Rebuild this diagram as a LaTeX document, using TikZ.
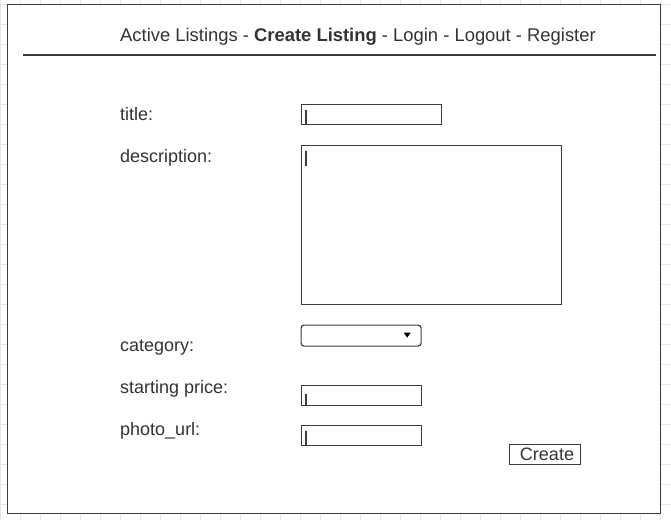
\documentclass[tikz,border=0pt]{standalone}
\usepackage{fontspec}
\setmainfont{Liberation Sans}
\definecolor{textgrey}{HTML}{333333}
\definecolor{linegrey}{HTML}{3C3C3C}
\definecolor{gridgrey}{HTML}{E6E6E6}
\begin{document}
\begin{tikzpicture}[x=1pt,y=-1pt,
            label text/.style={anchor=base west,inner sep=0pt,text=textgrey,font=\fontsize{18}{21}\selectfont},
            field/.style={draw=linegrey,line width=1.2pt,anchor=north west,inner sep=0pt,minimum height=20pt},
            cursor/.style={draw=linegrey,line width=1.8pt},
            button/.style={draw=linegrey,line width=1pt,inner sep=0pt,minimum width=71pt,minimum height=20pt,text=textgrey,font=\fontsize{18}{21}\selectfont}]

        \useasboundingbox (0,0) rectangle (671,520);

        % Background grid
        \foreach \gx in {0,20,...,660}
            \draw[gridgrey,line width=0.8pt] (\gx,0) -- (\gx,520);
        \foreach \gy in {4,24,...,504}
            \draw[gridgrey,line width=0.8pt] (0,\gy) -- (671,\gy);

        % Page and header
        \draw[draw=linegrey,fill=white,line width=1.5pt] (7.5,4.5) rectangle (660.5,513.5);
        \coordinate (rule left) at (23,55);
        \coordinate (rule right) at (656,55);
        \draw[linegrey,line width=1.3pt] (rule left) -- (rule right);
        \node[label text,font=\fontsize{18.4}{21}\selectfont] (menu) at (120,41) {Active Listings - \textbf{Create Listing} - Login - Logout - Register};

        % Define labels
        \node[label text] (title) at (120,120) {title:};
        \node[label text] (description) at (120,162) {description:};
        \node[label text] (category) at (120,351.5) {category:};
        \node[label text] (price) at (120,393) {starting price:};
        \node[label text] (photo) at (120,435) {photo\_url:};

        % Define fields
        \node[field,minimum width=140pt] (title box) at (300.5,104) {};
        \node[field,minimum width=260pt,minimum height=159pt] (description box) at (300.5,145) {};
        \node[field,minimum width=120pt,minimum height=21pt,rounded corners=3pt] (category box) at (300.5,324.5) {};
        \node[field,minimum width=120pt] (price box) at (300.5,384.5) {};
        \node[field,minimum width=120pt] (photo box) at (300.5,424.5) {};
        \node[button] (create) at (545,454.5) {\hspace*{4pt}Create};

        % Cursors and arrow
        \draw[cursor] (title box.north west) ++(5.5,6) -- ++(0,14);
        \draw[cursor] (description box.north west) ++(5.5,6) -- ++(0,15);
        \draw[cursor] (price box.north west) ++(5.5,9) -- ++(0,11);
        \draw[cursor] (photo box.north west) ++(5.5,6) -- ++(0,14);
        \fill[black] (category box.east) ++(-18,-3) -- ++(7,0) -- ++(-3.5,5) -- cycle;

        \end{tikzpicture}
\end{document}
